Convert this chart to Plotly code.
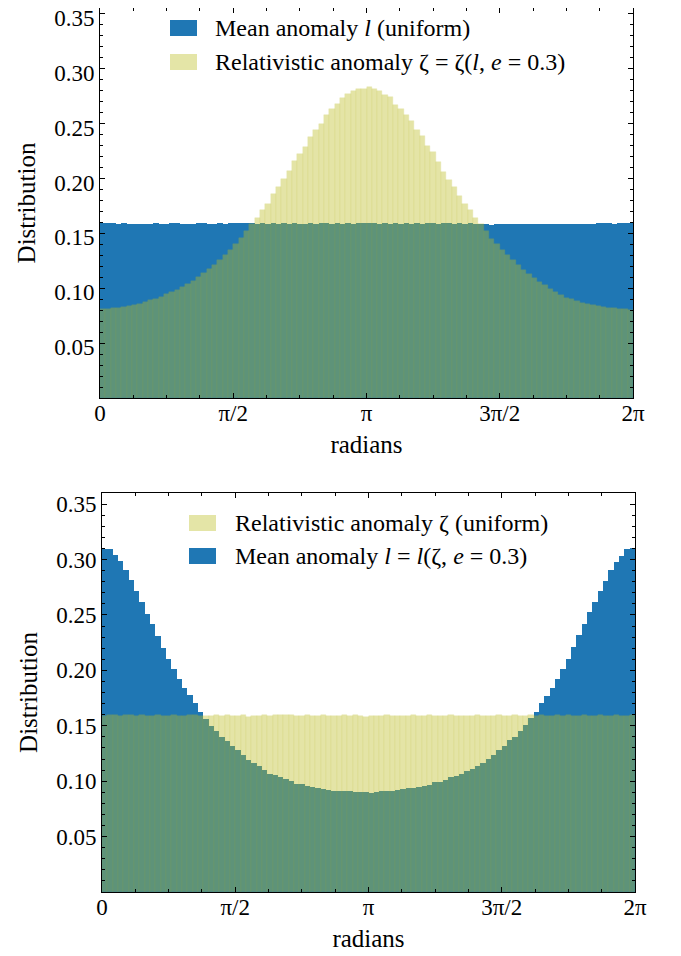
import numpy as np
import plotly.graph_objects as go

N_BINS = 100
X_MIN, X_MAX = 0.0, 2 * np.pi

tick_vals = [0, np.pi / 2, np.pi, 3 * np.pi / 2, 2 * np.pi]
tick_text = ["0", "π/2", "π", "3π/2", "2π"]
y_ticks = [0.05, 0.10, 0.15, 0.20, 0.25, 0.30, 0.35]
y_tick_text = ["0.05", "0.10", "0.15", "0.20", "0.25", "0.30", "0.35"]

# ---- Top panel: mean anomaly l uniform, relativistic anomaly zeta = zeta(l, e=0.3)
top_mean_uniform = [
    0.1592, 0.1597, 0.1597, 0.1588, 0.1597, 0.1588, 0.1588, 0.1585, 0.1588, 0.1588,
    0.1597, 0.1588, 0.1588, 0.1597, 0.1597, 0.1588, 0.1585, 0.1588, 0.1597, 0.1597,
    0.1588, 0.1588, 0.1597, 0.1588, 0.1597, 0.1597, 0.1594, 0.1592, 0.1597, 0.1588,
    0.1592, 0.1588, 0.1594, 0.1588, 0.1592, 0.1588, 0.1597, 0.1588, 0.1588, 0.1594,
    0.1588, 0.1592, 0.1597, 0.1588, 0.1592, 0.1588, 0.1594, 0.1588, 0.1592, 0.1597,
    0.1592, 0.1594, 0.1588, 0.1592, 0.1588, 0.1597, 0.1588, 0.1594, 0.1588, 0.1592,
    0.1588, 0.1592, 0.1597, 0.1588, 0.1592, 0.1594, 0.1588, 0.1592, 0.1588, 0.1594,
    0.1588, 0.1588, 0.1582, 0.1576, 0.1588, 0.1588, 0.1588, 0.1585, 0.1588, 0.1588,
    0.1588, 0.1588, 0.1585, 0.1588, 0.1588, 0.1588, 0.1588, 0.1588, 0.1585, 0.1588,
    0.1588, 0.1588, 0.1588, 0.1594, 0.1597, 0.1597, 0.1588, 0.1597, 0.1597, 0.1594,
]
top_relativistic = [
    0.0809, 0.0815, 0.0818, 0.0824, 0.0830, 0.0836, 0.0845, 0.0855, 0.0874, 0.0890,
    0.0906, 0.0924, 0.0945, 0.0964, 0.0985, 0.1010, 0.1036, 0.1066, 0.1103, 0.1135,
    0.1172, 0.1212, 0.1255, 0.1303, 0.1350, 0.1405, 0.1461, 0.1521, 0.1588, 0.1642,
    0.1709, 0.1764, 0.1855, 0.1921, 0.2000, 0.2073, 0.2158, 0.2224, 0.2291, 0.2376,
    0.2445, 0.2500, 0.2582, 0.2630, 0.2682, 0.2733, 0.2773, 0.2794, 0.2812, 0.2820,
    0.2830, 0.2818, 0.2794, 0.2764, 0.2742, 0.2673, 0.2630, 0.2582, 0.2521, 0.2445,
    0.2385, 0.2294, 0.2239, 0.2152, 0.2058, 0.1991, 0.1921, 0.1839, 0.1764, 0.1709,
    0.1642, 0.1588, 0.1521, 0.1452, 0.1405, 0.1348, 0.1303, 0.1255, 0.1208, 0.1167,
    0.1127, 0.1097, 0.1058, 0.1027, 0.0997, 0.0970, 0.0940, 0.0915, 0.0900, 0.0885,
    0.0870, 0.0861, 0.0852, 0.0842, 0.0830, 0.0822, 0.0818, 0.0815, 0.0809, 0.0806,
]

# ---- Bottom panel: relativistic anomaly zeta uniform, mean anomaly l = l(zeta, e=0.3)
bottom_relativistic_uniform = [
    0.1592, 0.1597, 0.1594, 0.1592, 0.1597, 0.1594, 0.1588, 0.1594, 0.1588, 0.1592,
    0.1594, 0.1588, 0.1592, 0.1597, 0.1585, 0.1592, 0.1594, 0.1597, 0.1592, 0.1588,
    0.1592, 0.1594, 0.1588, 0.1600, 0.1592, 0.1588, 0.1594, 0.1582, 0.1592, 0.1588,
    0.1594, 0.1592, 0.1597, 0.1594, 0.1597, 0.1594, 0.1592, 0.1588, 0.1594, 0.1588,
    0.1592, 0.1597, 0.1588, 0.1592, 0.1588, 0.1594, 0.1592, 0.1594, 0.1588, 0.1582,
    0.1592, 0.1592, 0.1588, 0.1594, 0.1588, 0.1585, 0.1592, 0.1588, 0.1594, 0.1592,
    0.1588, 0.1594, 0.1592, 0.1585, 0.1592, 0.1594, 0.1588, 0.1592, 0.1585, 0.1592,
    0.1594, 0.1588, 0.1592, 0.1588, 0.1594, 0.1592, 0.1588, 0.1594, 0.1592, 0.1588,
    0.1594, 0.1592, 0.1594, 0.1592, 0.1588, 0.1594, 0.1592, 0.1597, 0.1592, 0.1588,
    0.1594, 0.1592, 0.1588, 0.1594, 0.1592, 0.1592, 0.1594, 0.1588, 0.1592, 0.1594,
]
bottom_mean = [
    0.3097, 0.3091, 0.3042, 0.2991, 0.2906, 0.2816, 0.2716, 0.2613, 0.2508, 0.2417,
    0.2311, 0.2205, 0.2106, 0.2009, 0.1918, 0.1843, 0.1782, 0.1701, 0.1625, 0.1562,
    0.1495, 0.1450, 0.1399, 0.1360, 0.1320, 0.1278, 0.1239, 0.1193, 0.1163, 0.1133,
    0.1103, 0.1066, 0.1057, 0.1036, 0.1018, 0.1006, 0.0976, 0.0976, 0.0958, 0.0946,
    0.0934, 0.0931, 0.0918, 0.0912, 0.0912, 0.0912, 0.0912, 0.0906, 0.0906, 0.0900,
    0.0897, 0.0900, 0.0912, 0.0912, 0.0915, 0.0921, 0.0927, 0.0934, 0.0940, 0.0946,
    0.0958, 0.0967, 0.0991, 0.0997, 0.1012, 0.1036, 0.1048, 0.1066, 0.1088, 0.1109,
    0.1139, 0.1163, 0.1199, 0.1239, 0.1278, 0.1320, 0.1369, 0.1399, 0.1450, 0.1508,
    0.1571, 0.1628, 0.1707, 0.1767, 0.1837, 0.1918, 0.2009, 0.2106, 0.2208, 0.2317,
    0.2414, 0.2529, 0.2613, 0.2716, 0.2810, 0.2909, 0.2982, 0.3036, 0.3091, 0.3103,
]

BLUE = "#1f77b4"
OLIVE = "#bcbd22"
FONT = "Liberation Serif"

edges = np.linspace(X_MIN, X_MAX, N_BINS + 1)
width = edges[1] - edges[0]
centers = edges[:-1] + width / 2

fig = go.Figure()


def add_pair(blue_vals, yellow_vals, xa, ya):
    fig.add_trace(go.Bar(
        x=centers, y=blue_vals, width=width, xaxis=xa, yaxis=ya,
        marker=dict(color=BLUE, line=dict(width=0)), showlegend=False,
    ))
    fig.add_trace(go.Bar(
        x=centers, y=yellow_vals, width=width, xaxis=xa, yaxis=ya,
        marker=dict(color=OLIVE, opacity=0.4, line=dict(width=0.4, color=OLIVE)),
        showlegend=False,
    ))


add_pair(top_mean_uniform, top_relativistic, "x", "y")
add_pair(bottom_mean, bottom_relativistic_uniform, "x2", "y2")

# page has an 8px body margin; lay the figure out in window pixels minus that offset
OFF = 8
W, H = 681 - OFF, 956 - OFF

# panel frames in window pixels
TOP_X = (100, 633)
TOP_Y = (8, 398)      # frame top clipped to the page margin
BOT_X = (102, 635)
BOT_Y = (493, 892)
PX_PER_UNIT_TOP = (398 - 3) / 0.36   # reference frame spans 3..398 px for 0..0.36
TOP_YMAX = (TOP_Y[1] - TOP_Y[0]) / PX_PER_UNIT_TOP


def xdom(lr):
    return [(lr[0] - OFF) / W, (lr[1] - OFF) / W]


def ydom(tb):
    return [1 - (tb[1] - OFF) / H, 1 - (tb[0] - OFF) / H]


axis_common = dict(
    showline=True, linecolor="black", linewidth=1, mirror="ticks",
    ticks="inside", ticklen=5, tickwidth=1, tickcolor="black",
    showgrid=False, zeroline=False, automargin=False, ticklabeloverflow="allow",
    tickfont=dict(family=FONT, size=23, color="black"),
)

x_common = dict(
    axis_common, range=[X_MIN, X_MAX], tickmode="array",
    tickvals=tick_vals, ticktext=tick_text, ticklabelstandoff=-6,
    minor=dict(tick0=0, dtick=np.pi / 8, ticks="inside", ticklen=3, tickwidth=1, tickcolor="black"),
    title=dict(text="radians", font=dict(family=FONT, size=25, color="black"), standoff=10),
)
y_common = dict(
    axis_common, tickmode="array",
    tickvals=y_ticks, ticktext=y_tick_text,
    minor=dict(tick0=0, dtick=0.01, ticks="inside", ticklen=3, tickwidth=1, tickcolor="black"),
    title=dict(text="Distribution", font=dict(family=FONT, size=25, color="black"), standoff=11),
)

fig.update_layout(
    width=W, height=H,
    margin=dict(l=0, r=0, t=0, b=0),
    paper_bgcolor="white", plot_bgcolor="white",
    barmode="overlay", bargap=0,
    xaxis=dict(x_common, domain=xdom(TOP_X), anchor="y"),
    yaxis=dict(y_common, domain=ydom(TOP_Y), anchor="x", range=[0, TOP_YMAX],
               ticklabelshift=4),
    xaxis2=dict(x_common, domain=xdom(BOT_X), anchor="y2"),
    yaxis2=dict(y_common, domain=ydom(BOT_Y), anchor="x2", range=[0, 0.36]),
    showlegend=False,
)

# legends drawn as patches + labels inside each panel (window-pixel positions)
legend_rows = [
    ("x domain", "y domain", BLUE, 1.0, "Mean anomaly <i>l</i> (uniform)", 170, 197, 28, 213, TOP_X, TOP_Y),
    ("x domain", "y domain", OLIVE, 0.4, "Relativistic anomaly ζ = ζ(<i>l</i>, <i>e</i> = 0.3)", 170, 197, 62, 213, TOP_X, TOP_Y),
    ("x2 domain", "y2 domain", OLIVE, 0.4, "Relativistic anomaly ζ (uniform)", 189, 216, 523, 233, BOT_X, BOT_Y),
    ("x2 domain", "y2 domain", BLUE, 1.0, "Mean anomaly <i>l</i> = <i>l</i>(ζ, <i>e</i> = 0.3)", 189, 216, 556, 233, BOT_X, BOT_Y),
]
for xr, yr, col, op, txt, px0, px1, pyc, ptx, (xl, xrgt), (ytop, ybot) in legend_rows:
    fx = lambda p: (p - xl) / (xrgt - xl)
    fy = lambda p: (ybot - p) / (ybot - ytop)
    fig.add_shape(type="rect", xref=xr, yref=yr,
                  x0=fx(px0), x1=fx(px1), y0=fy(pyc + 8), y1=fy(pyc - 8),
                  fillcolor=col, opacity=op, line=dict(width=0), layer="above")
    fig.add_annotation(xref=xr, yref=yr, x=fx(ptx), y=fy(pyc), text=txt,
                       showarrow=False, xanchor="left", yanchor="middle",
                       font=dict(family=FONT, size=24, color="black"))

fig.write_html("out.html")
